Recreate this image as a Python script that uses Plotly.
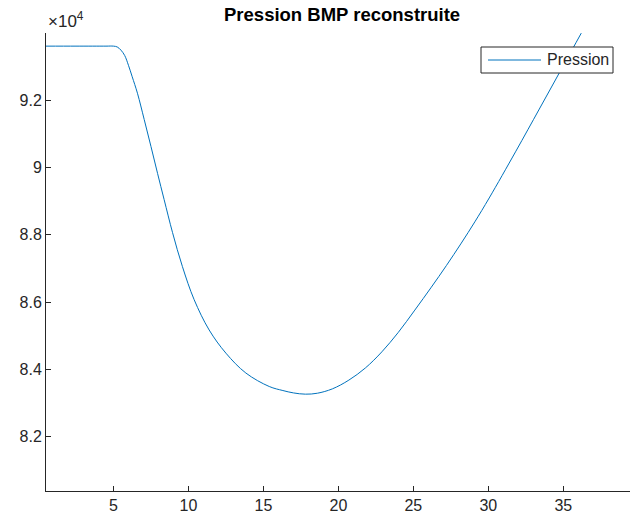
import plotly.graph_objects as go

# Reconstructed BMP pressure (Pa) versus time
temps = [0.5, 2.5, 4.5, 5.0, 5.25, 5.5, 5.75, 6.0, 6.25, 6.6, 7.05, 7.5, 7.94,
         8.38, 8.94, 9.6, 10.38, 11.38, 12.5, 13.83, 15.39, 16.3, 17.0, 17.8,
         18.6, 19.6, 20.7, 21.8, 22.9, 24.0, 25.1, 26.2, 27.2, 28.2, 29.1,
         30.06, 31.84, 33.4, 34.73, 36.18, 37.0]
pression = [93600, 93600, 93600, 93600, 93575, 93480, 93320, 93030, 92690,
            92200, 91420, 90620, 89820, 89040, 88060, 87050, 86070, 85170,
            84480, 83890, 83490, 83370, 83300, 83262, 83290, 83420, 83680,
            84040, 84520, 85100, 85760, 86440, 87080, 87750, 88380, 89090,
            90480, 91730, 92800, 93970, 94630]

x_ticks = [5, 10, 15, 20, 25, 30, 35]
y_ticks = [82000, 84000, 86000, 88000, 90000, 92000]
y_labels = ["8.2", "8.4", "8.6", "8.8", "9", "9.2"]
legend_label = "Pression"

FONT = "Liberation Sans, Arial, Helvetica, sans-serif"
INK = "#262626"
BLUE = "#0072BD"

# plot area in pixels (axes box)
L, R, T, B = 46, 630, 33, 491


def px(xp):
    return (xp - L) / (R - L)


def py(yp):
    return (B - yp) / (B - T)


fig = go.Figure(
    go.Scatter(
        x=temps, y=pression, mode="lines", name=legend_label,
        line=dict(color=BLUE, width=1, shape="spline", smoothing=1.0),
        showlegend=False,
    )
)

# legend box drawn in the upper-right corner of the axes
shapes = [
    dict(type="rect", xref="paper", yref="paper",
         x0=px(481), x1=px(613), y0=py(73), y1=py(47),
         line=dict(color=INK, width=1), fillcolor="white", layer="above"),
    dict(type="line", xref="paper", yref="paper",
         x0=px(488), x1=px(541), y0=py(60), y1=py(60),
         line=dict(color=BLUE, width=1), layer="above"),
]

fig.update_layout(
    width=630, height=522,
    margin=dict(l=L, r=630 - R, t=T, b=522 - B),
    paper_bgcolor="white", plot_bgcolor="white",
    font=dict(family=FONT, size=16, color=INK),
    title=dict(
        text="Pression BMP reconstruite",
        font=dict(family=FONT, size=18.5, color="black", weight="bold"),
        x=0.507, xref="paper", xanchor="center",
        y=1 - 15 / 522, yref="container", yanchor="middle",
    ),
    xaxis=dict(
        range=[0.5, 39.45], showgrid=False, zeroline=False,
        showline=True, linecolor=INK, linewidth=1, mirror=False,
        ticks="inside", ticklen=5, tickcolor=INK,
        tickvals=x_ticks, tickfont=dict(size=16, color=INK),
    ),
    yaxis=dict(
        range=[80386, 93990], showgrid=False, zeroline=False,
        showline=True, linecolor=INK, linewidth=1, mirror=False,
        ticks="inside", ticklen=5, tickcolor=INK,
        tickvals=y_ticks, ticktext=y_labels, tickfont=dict(size=16, color=INK),
    ),
    shapes=shapes,
    annotations=[
        dict(
            text="×10<sup>4</sup>", x=0, xref="paper", xanchor="left",
            y=1, yref="paper", yanchor="bottom", yshift=0,
            showarrow=False, font=dict(family=FONT, size=17, color=INK),
        ),
        dict(
            text=legend_label, x=px(545), xref="paper", xanchor="left",
            y=py(60), yref="paper", yanchor="middle",
            showarrow=False, font=dict(family=FONT, size=16, color=INK),
        ),
    ],
)

fig.write_html("out.html")
